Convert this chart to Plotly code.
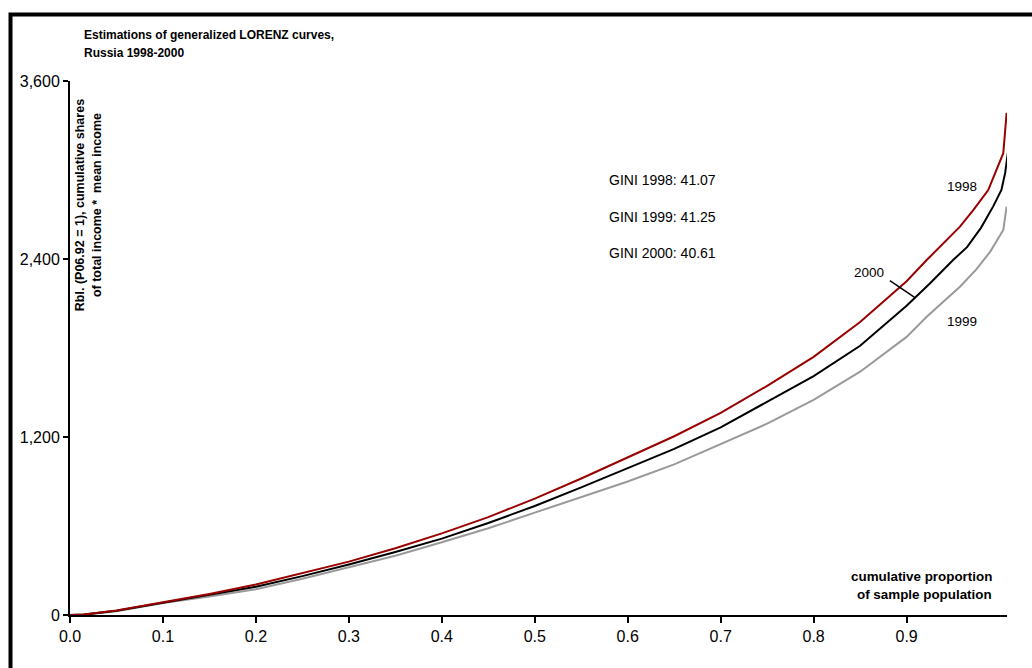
import plotly.graph_objects as go

# ---- data ----
x_1998 = [0, 0.015, 0.05, 0.1, 0.15, 0.2, 0.25, 0.3, 0.35, 0.4, 0.45, 0.5, 0.55, 0.6, 0.65,
          0.7, 0.75, 0.8, 0.85, 0.9, 0.9216, 0.9574, 0.9717, 0.9878, 0.9968, 1.004, 1.0076]
y_1998 = [0, 3, 30, 85, 142, 205, 280, 360, 450, 550, 660, 785, 920, 1060, 1205,
          1362, 1545, 1740, 1975, 2250, 2393, 2618, 2730, 2865, 3000, 3113, 3386]

x_2000 = [0, 0.015, 0.05, 0.1, 0.15, 0.2, 0.25, 0.3, 0.35, 0.4, 0.45, 0.5, 0.55, 0.6, 0.65,
          0.7, 0.75, 0.8, 0.85, 0.9, 0.925, 0.95, 0.965, 0.98, 0.993, 1.002, 1.006, 1.009]
y_2000 = [0, 3, 28, 83, 135, 191, 262, 340, 425, 515, 620, 735, 860, 990, 1120,
          1265, 1435, 1610, 1815, 2085, 2235, 2393, 2480, 2610, 2753, 2865, 2980, 3119]

x_1999 = [0, 0.015, 0.05, 0.1, 0.15, 0.2, 0.25, 0.3, 0.35, 0.4, 0.45, 0.5, 0.55, 0.6, 0.65,
          0.7, 0.75, 0.8, 0.85, 0.9, 0.9216, 0.9574, 0.975, 0.99, 1.004, 1.0076]
y_1999 = [0, 2, 25, 80, 125, 173, 245, 320, 400, 490, 585, 690, 795, 900, 1015,
          1150, 1290, 1450, 1640, 1875, 2011, 2213, 2330, 2450, 2596, 2753]

gini_labels = ["GINI 1998: 41.07", "GINI 1999: 41.25", "GINI 2000: 40.61"]
x_ticks = [0.0, 0.1, 0.2, 0.3, 0.4, 0.5, 0.6, 0.7, 0.8, 0.9]
y_ticks = [0, 1200, 2400, 3600]

FONT = "Liberation Sans, Arial, sans-serif"

fig = go.Figure()
fig.add_trace(go.Scatter(x=x_1999, y=y_1999, mode="lines", name="1999",
                         line=dict(color="#999999", width=2)))
fig.add_trace(go.Scatter(x=x_2000, y=y_2000, mode="lines", name="2000",
                         line=dict(color="#000000", width=2)))
fig.add_trace(go.Scatter(x=x_1998, y=y_1998, mode="lines", name="1998",
                         line=dict(color="#990000", width=2)))

ann = []
# title (two lines)
for txt, yy in [("<b>Estimations of generalized LORENZ curves,</b>", 1.0861),
                ("<b>Russia 1998-2000</b>", 1.0524)]:
    ann.append(dict(text=txt, xref="paper", yref="paper", x=0.0128, y=yy,
                    xanchor="left", yanchor="middle", showarrow=False,
                    font=dict(size=12, color="black", family=FONT)))
# y-axis title (inside plot)
ann.append(dict(text="<b>Rbl. (P06.92 = 1), cumulative shares<br>of total income *  mean income</b>",
                xref="paper", yref="paper", x=0.0195, y=0.768, xanchor="center", yanchor="middle",
                textangle=-90, showarrow=False, font=dict(size=12.5, color="black", family=FONT)))
# x-axis title (two lines, right aligned)
for txt, yy in [("<b>cumulative proportion</b>", 0.0712), ("<b>of sample population</b>", 0.0393)]:
    ann.append(dict(text=txt, xref="paper", yref="paper", x=0.9861, y=yy,
                    xanchor="right", yanchor="middle", showarrow=False,
                    font=dict(size=13.4, color="black", family=FONT)))
# GINI notes
for lbl, yy in zip(gini_labels, [2933, 2685, 2443]):
    ann.append(dict(text=lbl, x=0.5777, y=yy, xref="x", yref="y", xanchor="left",
                    yanchor="middle", showarrow=False,
                    font=dict(size=14, color="black", family=FONT)))
# series labels
for lbl, xx, yy in [("1998", 0.9596, 2888), ("1999", 0.9596, 1977), ("2000", 0.8595, 2312)]:
    ann.append(dict(text=lbl, x=xx, y=yy, xref="x", yref="y", showarrow=False,
                    font=dict(size=13.5, color="black", family=FONT)))

shapes = [
    dict(type="line", xref="x", yref="y", x0=0.882, y0=2254, x1=0.909, y1=2139,
         line=dict(color="black", width=1.5)),
    dict(type="rect", xref="paper", yref="paper", x0=-0.0635, y0=-0.2, x1=1.2, y1=1.1245,
         line=dict(color="black", width=4), layer="above"),
]

fig.update_layout(
    width=1032, height=668,
    margin=dict(l=70, r=25, t=81, b=53),
    paper_bgcolor="white", plot_bgcolor="white",
    showlegend=False,
    font=dict(family=FONT, color="black", size=16),
    annotations=ann, shapes=shapes,
    xaxis=dict(range=[0, 1.008], tickvals=x_ticks, tickformat=".1f",
               showgrid=False, zeroline=False, showline=True, linecolor="black", linewidth=2,
               ticks="outside", ticklen=6, tickwidth=2, tickcolor="black",
               tickfont=dict(size=16, family=FONT, color="black")),
    yaxis=dict(range=[0, 3600], tickvals=y_ticks, tickformat=",",
               showgrid=False, zeroline=False, showline=True, linecolor="black", linewidth=2,
               ticks="outside", ticklen=5, tickwidth=2, tickcolor="black",
               tickfont=dict(size=16, family=FONT, color="black")),
)

fig.write_html("out.html")
